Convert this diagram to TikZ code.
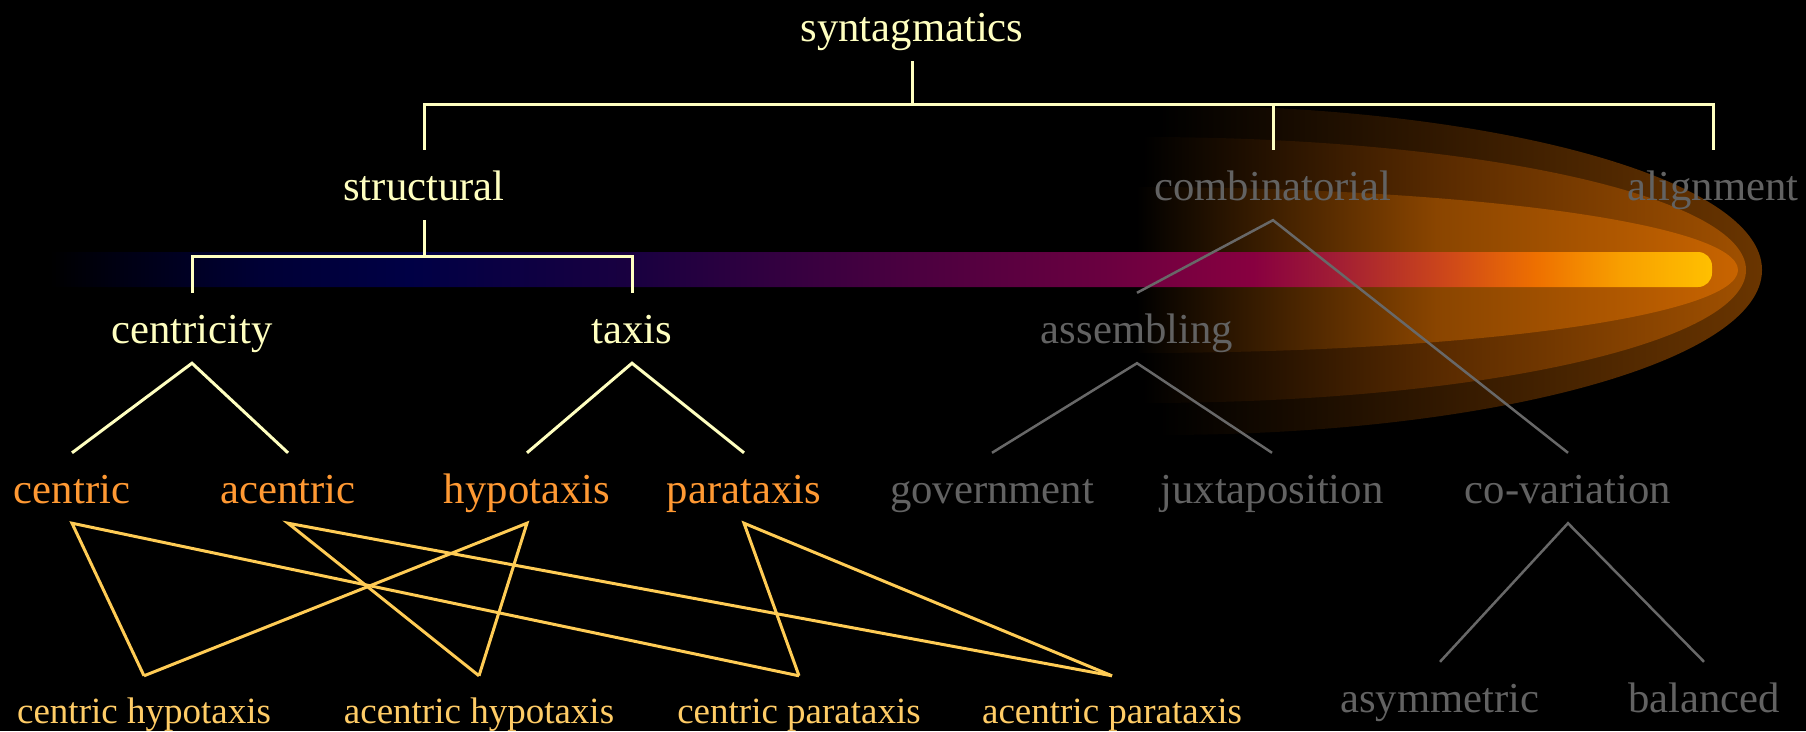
\documentclass[tikz,border=0pt]{standalone}
\usepackage{fontspec}
\setmainfont{Liberation Serif}
\definecolor{cCream}{HTML}{FFFFC0}
\definecolor{cOrange}{HTML}{FF9933}
\definecolor{cYellow}{HTML}{FFCC66}
\definecolor{cYline}{HTML}{FFCC55}
\definecolor{cGray}{HTML}{626262}
\definecolor{cGline}{HTML}{686868}
\definecolor{bA}{HTML}{000010}
\definecolor{bB}{HTML}{000035}
\definecolor{bC}{HTML}{000045}
\definecolor{bD}{HTML}{1A0040}
\definecolor{bE}{HTML}{4A0040}
\definecolor{bF}{HTML}{6A0040}
\definecolor{bG}{HTML}{880040}
\definecolor{bH}{HTML}{A01C35}
\definecolor{bI}{HTML}{D04A18}
\definecolor{bJ}{HTML}{EE7000}
\definecolor{bK}{HTML}{F8A000}
\definecolor{bL}{HTML}{FFC000}
\pgfdeclarehorizontalshading{barshade}{100bp}{color(0bp)=(black); color(25bp)=(black); color(26.8bp)=(bA); color(31.3bp)=(bB); color(35.8bp)=(bC); color(42.7bp)=(bD); color(50.7bp)=(bE); color(56.7bp)=(bF); color(61.2bp)=(bG); color(63.6bp)=(bH); color(67.2bp)=(bI); color(69.7bp)=(bJ); color(72.3bp)=(bK); color(75bp)=(bL); color(100bp)=(bL)}
\begin{document}
\begin{tikzpicture}[x=1pt,y=-1pt,
  lbl/.style={anchor=base, text height=30pt, text depth=0pt, inner xsep=0pt, inner ysep=20pt, font=\fontsize{42.7}{50}\selectfont},
  toptxt/.style={lbl, text=cCream},
  midtxt/.style={lbl, text=cOrange},
  lowtxt/.style={lbl, text=cYellow, font=\fontsize{37}{44}\selectfont, inner ysep=17pt},
  graytxt/.style={lbl, text=cGray},
  cl/.style={draw=cCream, line width=3pt},
  yl/.style={draw=cYline, line width=3pt},
  gl/.style={draw=cGline, line width=2.5pt}]
\useasboundingbox (0,0) rectangle (1806,731);
\fill[black] (0,0) rectangle (1806,731);
% glow
\path[left color=black, right color={rgb,255:red,106;green,53;blue,0}, middle color={rgb,255:red,53;green,26;blue,0}]
  (1160,105) -- (1160,435) arc[start angle=90, end angle=-90, x radius=602, y radius=165] -- cycle;
\path[left color=black, right color={rgb,255:red,160;green,80;blue,0}, middle color={rgb,255:red,90;green,43;blue,0}]
  (1143,137) -- (1143,403) arc[start angle=90, end angle=-90, x radius=603, y radius=133] -- cycle;
\path[left color=black, right color={rgb,255:red,200;green,100;blue,0}, middle color={rgb,255:red,138;green,69;blue,0}]
  (1136,187) -- (1136,353) arc[start angle=90, end angle=-90, x radius=602, y radius=83] -- cycle;
% bar
\path[shading=barshade] (50,287) -- (50,252) [rounded corners=14pt] -- (1712,252) -- (1712,287) [sharp corners] -- cycle;
% nodes
\node[toptxt] (syn) at (912,41) {syntagmatics};
\node[toptxt] (str) at (424,200) {structural};
\node[graytxt] (comb) at (1273,200) {combinatorial};
\node[graytxt] (align) at (1713,200) {alignment};
\node[toptxt] (cen) at (192,343) {centricity};
\node[toptxt] (tax) at (632,343) {taxis};
\node[graytxt] (ass) at (1137,343) {assembling};
\node[midtxt] (centric) at (72,503) {centric};
\node[midtxt] (acentric) at (288,503) {acentric};
\node[midtxt] (hypo) at (527,503) {hypotaxis};
\node[midtxt] (para) at (744,503) {parataxis};
\node[graytxt] (gov) at (992,503) {government};
\node[graytxt] (jux) at (1272,503) {juxtaposition};
\node[graytxt] (cov) at (1568,503) {co-variation};
\node[lowtxt] (ch) at (144,723) {centric hypotaxis};
\node[lowtxt] (ah) at (479,723) {acentric hypotaxis};
\node[lowtxt] (cp) at (799,723) {centric parataxis};
\node[lowtxt] (ap) at (1112,723) {acentric parataxis};
\node[graytxt] (asym) at (1440,712) {asymmetric};
\node[graytxt] (bal) at (1704,712) {balanced};
% brackets
\coordinate (synbar) at (912,104);
\coordinate (strbar) at (424,256);
\draw[cl] (str.north) |- (synbar) -| (align.north);
\draw[cl] (syn.south) -- (synbar);
\draw[cl] (comb.north) -- (comb.north |- synbar);
\draw[cl] (cen.north) |- (strbar) -| (tax.north);
\draw[cl] (str.south) -- (strbar);
% trees
\draw[cl] (centric.north) -- (cen.south) -- (acentric.north);
\draw[cl] (hypo.north) -- (tax.south) -- (para.north);
\draw[gl] (ass.north) -- (comb.south) -- (cov.north);
\draw[gl] (gov.north) -- (ass.south) -- (jux.north);
\draw[gl] (asym.north) -- (cov.south) -- (bal.north);
% crossings
\draw[yl] (ch.north) -- (centric.south) -- (cp.north);
\draw[yl] (ah.north) -- (acentric.south) -- (ap.north);
\draw[yl] (ch.north) -- (hypo.south) -- (ah.north);
\draw[yl] (cp.north) -- (para.south) -- (ap.north);
\end{tikzpicture}
\end{document}
